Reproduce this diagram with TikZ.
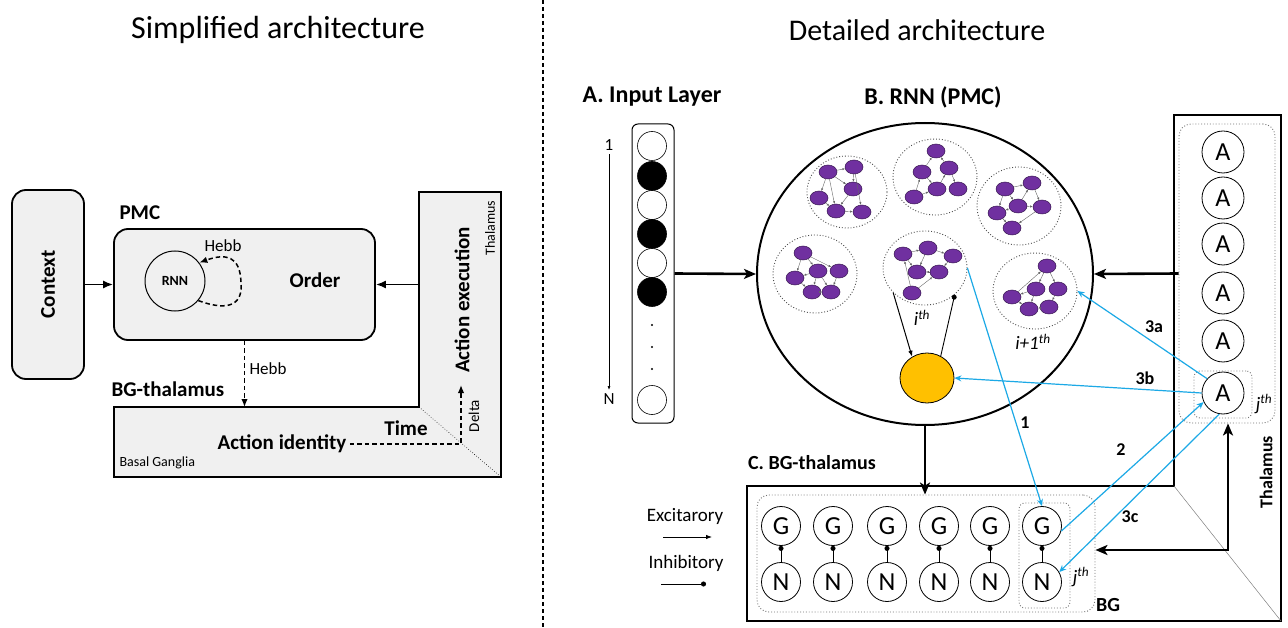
\documentclass[tikz,border=0pt]{standalone}
\usepackage{fontspec}
\setmainfont{Carlito}
\usetikzlibrary{arrows.meta,shapes.geometric,calc}
\definecolor{boxgray}{HTML}{F0F0F0}
\definecolor{purp}{HTML}{7030A0}
\definecolor{orng}{HTML}{FFC000}
\definecolor{cyanl}{HTML}{1CA9E6}
\newcommand\fsz[1]{\fontsize{#1}{#1}\selectfont}
\begin{document}
\begin{tikzpicture}[x=1pt,y=-1pt,
  sbox/.style={draw, line width=1.8pt, fill=boxgray, rounded corners=14pt, inner sep=0pt},
  ar/.style={-{Latex[length=10pt,width=8pt]}, line width=1.6pt},
  dar/.style={-{Latex[length=8pt,width=6.5pt]}, line width=1.5pt, dash pattern=on 4.5pt off 3pt},
  heavy/.style={line width=2.6pt, -{Stealth[length=12pt,width=10pt,inset=3pt]}},
  pn/.style={ellipse, draw=purp!50!black, line width=0.5pt, fill=purp, minimum width=18pt, minimum height=14pt, inner sep=0pt},
  syn/.style={-{Latex[length=2.6pt,width=2.2pt]}, line width=0.4pt, draw=black!60},
  clu/.style={ellipse, draw=black!70, dotted, line width=0.9pt, inner sep=0pt},
  blu/.style={draw=cyanl, line width=1.2pt, -{Stealth[length=7pt,width=6pt]}},
  unit/.style={circle, draw, line width=0.8pt, minimum size=40pt, inner sep=0pt, font=\fsz{26}},
  inh/.style={-{Circle[length=5pt]}, line width=0.9pt},
  dbox/.style={draw=black!55, dotted, line width=0.9pt, rounded corners=12pt, inner sep=0pt},
  lbl/.style={font=\fsz{18}\bfseries}
]
\path[fill=white] (0,0) rectangle (1288,628);
\useasboundingbox (0,0) rectangle (1288,628);

% ---------- titles and divider
\node[font=\fsz{32}] (t1) at (278,30) {Simplified architecture};
\node[font=\fsz{30}] (t2) at (917,30) {Detailed architecture};
\draw[line width=1.2pt, dash pattern=on 4pt off 3pt] (543,0) -- (543,628);

% ---------- simplified architecture
\node[sbox, minimum width=72pt, minimum height=189pt] (ctx) at (48,284.5) {};
\node[rotate=90, font=\fsz{21}\bfseries] at (ctx) {Context};
\node[sbox, minimum width=261pt, minimum height=111pt] (pmc) at (244.5,284.5) {};
\node[font=\fsz{21}\bfseries, anchor=west] (pmcl) at (116,213) {PMC};
\node[circle, draw, line width=1pt, minimum size=60pt, inner sep=0pt, font=\fsz{14}\bfseries] (rnn) at (175,281) {RNN};
\node[font=\fsz{21}\bfseries] (order) at (315,280) {Order};
\draw[dar] (rnn.-40) .. controls (232,313) and (243,302) .. (241,282) .. controls (240,256) and (226,253) .. (rnn.37);
\node[font=\fsz{17}] (hebb1) at (223,246) {Hebb};

\coordinate (lA) at (114,407);
\coordinate (lB) at (419,407);
\coordinate (lC) at (419,192);
\coordinate (lD) at (501,192);
\coordinate (lE) at (501,477);
\coordinate (lF) at (114,477);
\draw[line width=1.8pt, fill=boxgray] (lA) -- (lB) -- (lC) -- (lD) -- (lE) -- (lF) -- cycle;
\draw[dotted, line width=0.6pt] (lB) -- (lE);

\draw[ar] (ctx.east) -- (pmc.west);
\coordinate (thl) at (419,284.5);
\draw[ar] (thl) -- (pmc.east);
\draw[dar] (pmc.south) -- (pmc.south |- lA);
\node[font=\fsz{17}, anchor=west] (hebb2) at (246,369) {Hebb};
\node[font=\fsz{21}\bfseries, anchor=west] (bgt) at (108,389) {BG-thalamus};
\node[font=\fsz{14}, anchor=west] (bgang) at (116,463) {Basal Ganglia};
\node[font=\fsz{21}\bfseries] (aid) at (282,444) {Action identity};
\node[font=\fsz{21}\bfseries] (time) at (406,428) {Time};
\node[font=\fsz{21}\bfseries, rotate=90] (aex) at (462,300) {Action execution};
\node[font=\fsz{15}, rotate=90] (delta) at (474,416) {Delta};
\node[font=\fsz{14}, rotate=90] (thsm) at (490,228) {Thalamus};
\coordinate (dcorner) at (461,444);
\coordinate (dtip) at (461,385);
\draw[dar] (aid.east) -- (dcorner) -- (dtip);

% ---------- detailed: input layer
\node[font=\fsz{24}\bfseries] (ta) at (652,97) {A. Input Layer};
\node[font=\fsz{24}\bfseries] (tb) at (933,97) {B. RNN (PMC)};
\node[draw, line width=1pt, rounded corners=6pt, minimum width=42pt, minimum height=299pt, inner sep=0pt] (inp) at (653,273.5) {};
\foreach \y/\f [count=\k] in {146/white,176/black,205/white,234/black,263/white,292/black,400/white}
  \node[circle, draw, line width=0.6pt, fill=\f, minimum size=29pt, inner sep=0pt] (in\k) at (652,\y) {};
\foreach \y [count=\k] in {325,347,369} \fill (652,\y) circle (1.2pt) coordinate (dot\k);
\node[font=\fsz{17}] (one) at (609,145) {1};
\node[font=\fsz{17}] (nn) at (609,399) {N};
\draw[-{Latex[length=4pt,width=3pt]}, line width=0.6pt] (one.south) -- (nn.north);

% ---------- big RNN
\node[ellipse, draw, line width=2pt, minimum width=336pt, minimum height=302pt, inner sep=0pt] (big) at (925,274) {};
\draw[heavy] (inp.east) -- (big.west);

\node[clu, minimum width=80pt, minimum height=72pt] (c1) at (847,192) {};
\node[clu, minimum width=84pt, minimum height=76pt] (c2) at (935,177) {};
\node[clu, minimum width=84pt, minimum height=78pt] (c3) at (1019,206) {};
\node[clu, minimum width=84pt, minimum height=78pt] (c4) at (815,274) {};
\node[clu, minimum width=84pt, minimum height=74pt] (c5) at (925,268) {};
\node[clu, minimum width=84pt, minimum height=76pt] (c6) at (1035,291) {};

\foreach \n/\x/\y in {1/828/172,2/854/167,3/853/189,4/819/198,5/836/211,6/862/212}
  \node[pn] (a\n) at (\x,\y) {};
\foreach \a/\b in {1/2,1/4,1/5,1/3,2/3,2/6,3/5,4/5,5/6}
  \draw[syn] (a\a) -- (a\b);
\foreach \n/\x/\y in {1/936/151,2/922/172,3/949/168,4/914/197,5/937/189,6/958/189}
  \node[pn] (b\n) at (\x,\y) {};
\foreach \a/\b in {2/1,3/1,4/2,5/3,4/5,3/6,2/5}
  \draw[syn] (b\a) -- (b\b);
\foreach \n/\x/\y in {1/1005/189,2/1032/183,3/1018/206,4/1042/207,5/997/213,6/1012/228}
  \node[pn] (d\n) at (\x,\y) {};
\foreach \a/\b in {1/2,2/4,3/2,1/3,1/5,5/6,3/5,4/6,3/4}
  \draw[syn] (d\a) -- (d\b);
\foreach \n/\x/\y in {1/803/253,2/818/271,3/839/271,4/795/278,5/812/292,6/831/292}
  \node[pn] (e\n) at (\x,\y) {};
\foreach \a/\b in {1/4,1/2,1/3,2/4,2/5,2/6,3/6,5/6,4/5}
  \draw[syn] (e\a) -- (e\b);
\foreach \n/\x/\y in {1/903/254,2/928/248,3/953/256,4/917/272,5/939/272,6/912/293}
  \node[pn] (f\n) at (\x,\y) {};
\foreach \a/\b in {1/2,2/3,2/4,3/5,5/4,6/1,6/5,1/4}
  \draw[syn] (f\a) -- (f\b);
\foreach \n/\x/\y in {1/1047/266,2/1036/289,3/1058/289,4/1012/297,5/1029/309,6/1049/307}
  \node[pn] (g\n) at (\x,\y) {};
\foreach \a/\b in {4/1,1/2,1/3,2/4,3/6,2/5,6/5,4/5}
  \draw[syn] (g\a) -- (g\b);

\node[font=\fsz{19}] (ith) at (922,318) {\textit{i}\textsuperscript{\textit{th}}};
\node[font=\fsz{19}] (ip1) at (1033,342) {\textit{i+1}\textsuperscript{\textit{th}}};

\node[ellipse, draw, line width=0.8pt, fill=orng, minimum width=54pt, minimum height=50pt, inner sep=0pt] (orange) at (927,378) {};
\draw[-{Latex[length=6pt,width=4.5pt]}, line width=1pt] (c5.218) -- (orange.125);
\draw[inh] (orange.58) -- (c5.-42);

% ---------- BG-thalamus L-shape
\coordinate (rA) at (747,486);
\coordinate (rB) at (1174,486);
\coordinate (rC) at (1174,115);
\coordinate (rD) at (1281,115);
\coordinate (rE) at (1281,621);
\coordinate (rF) at (747,621);
\draw[line width=2pt] (rA) -- (rB) -- (rC) -- (rD) -- (rE) -- (rF) -- cycle;
\draw[black!50, line width=0.5pt] (rB) -- (rE);
\node[font=\fsz{20}\bfseries] (tc) at (812,463) {C. BG-thalamus};

% thalamus column
\node[dbox, minimum width=96pt, minimum height=299pt] (thal) at (1227,273.5) {};
\foreach \y [count=\k] in {152,198,244,293,341}
  \node[unit, minimum size=42pt] (A\k) at (1223,\y) {A};
\node[unit, minimum size=42pt] (aj) at (1223,393) {A};
\node[dbox, rounded corners=6pt, minimum width=58pt, minimum height=47pt] (ajbox) at (1223,394.5) {};
\node[font=\fsz{19}] (jth1) at (1264,404) {\textit{j}\textsuperscript{\textit{th}}};
\node[font=\fsz{18}\bfseries, rotate=90] (thbig) at (1266,472) {Thalamus};
\draw[heavy] (thal.west) -- (big.east);

% BG
\node[dbox, minimum width=338pt, minimum height=117pt] (bg) at (926,553.5) {};
\foreach \x [count=\k] in {781,833,887,939,990}{
  \node[unit, minimum size=39pt] (G\k) at (\x,526) {G};
  \node[unit, minimum size=39pt] (N\k) at (\x,582) {N};
  \draw[inh] (N\k.north) -- (G\k.south);
}
\node[unit, minimum size=39pt] (gj) at (1042,526) {G};
\node[unit, minimum size=39pt] (nj) at (1042,582) {N};
\draw[inh] (nj.north) -- (gj.south);
\node[dbox, rounded corners=6pt, minimum width=51pt, minimum height=105pt] (gjbox) at (1044.5,555.5) {};
\node[font=\fsz{19}] (jth2) at (1081,577) {\textit{j}\textsuperscript{\textit{th}}};
\node[font=\fsz{20}\bfseries] (bgl) at (1108,605) {BG};

\draw[heavy] (big.south) -- (big.south |- bg.north);
\coordinate (hc) at (1228,550);
\draw[line width=2.6pt, {Stealth[length=12pt,width=10pt,inset=3pt]}-{Stealth[length=12pt,width=10pt,inset=3pt]}] (bg.east |- hc) -- (hc) -- (hc |- thal.south);

% blue projections
\draw[blu] (c5.east) -- (gj.north);
\draw[blu] (gj.-15) -- (aj.205);
\draw[blu] (aj.-100) -- (nj.30);
\draw[blu] (aj.138) -- (c6.east);
\draw[blu] (aj.180) -- (orange.east);
\node[lbl] (l1) at (1025,423) {1};
\node[lbl] (l2) at (1121,450) {2};
\node[lbl] (l3a) at (1154,327) {3a};
\node[lbl] (l3b) at (1145,378) {3b};
\node[lbl] (l3c) at (1130,517) {3c};

% legend
\node[font=\fsz{19}] (exc) at (685,516) {Excitarory};
\coordinate (e1) at (663,537);
\coordinate (e2) at (712,537);
\draw[-{Latex[length=6pt,width=4.5pt]}, line width=0.8pt] (e1) -- (e2);
\node[font=\fsz{19}] (inhl) at (686,563) {Inhibitory};
\coordinate (i1) at (661,584);
\coordinate (i2) at (706,584);
\draw[inh, line width=0.8pt] (i1) -- (i2);
\end{tikzpicture}
\end{document}
